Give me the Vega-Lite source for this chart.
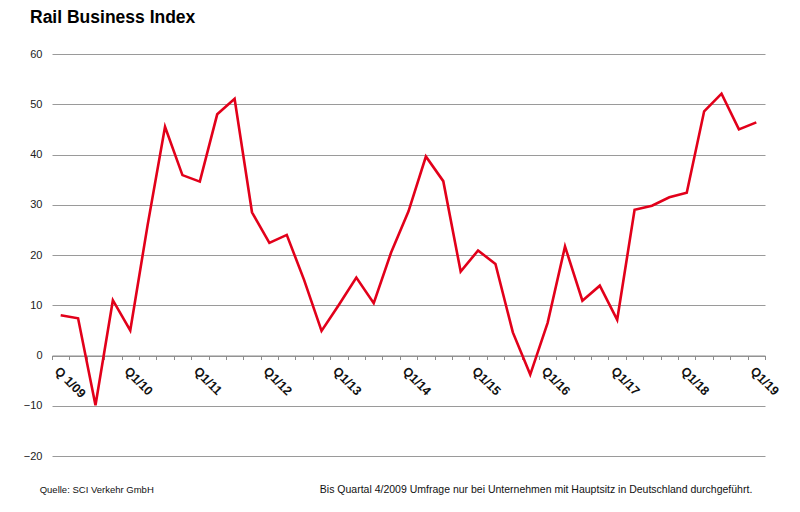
{
  "$schema": "https://vega.github.io/schema/vega-lite/v6.json",
  "width": 713,
  "height": 402,
  "autosize": {"type": "none"},
  "padding": {"left": 52, "top": 54, "right": 35, "bottom": 56},
  "background": "white",
  "title": {
    "text": "Rail Business Index",
    "anchor": "start",
    "frame": "group",
    "dx": -22,
    "offset": 22,
    "font": "Liberation Sans",
    "fontSize": 17.5,
    "fontWeight": "bold",
    "color": "#000000"
  },
  "config": {
    "view": {"stroke": null},
    "axis": {"labelFont": "Liberation Sans", "titleFont": "Liberation Sans"}
  },
  "data": {
    "values": [
      {"q": "Q 1/09", "v": 8.0},
      {"q": "Q2/09", "v": 7.4},
      {"q": "Q3/09", "v": -9.9},
      {"q": "Q4/09", "v": 11.0},
      {"q": "Q1/10", "v": 5.0},
      {"q": "Q2/10", "v": 26.0},
      {"q": "Q3/10", "v": 45.5},
      {"q": "Q4/10", "v": 35.9},
      {"q": "Q1/11", "v": 34.6},
      {"q": "Q2/11", "v": 48.0},
      {"q": "Q3/11", "v": 51.1},
      {"q": "Q4/11", "v": 28.5},
      {"q": "Q1/12", "v": 22.4},
      {"q": "Q2/12", "v": 24.0},
      {"q": "Q3/12", "v": 15.0},
      {"q": "Q4/12", "v": 4.9},
      {"q": "Q1/13", "v": 10.1},
      {"q": "Q2/13", "v": 15.5},
      {"q": "Q3/13", "v": 10.4},
      {"q": "Q4/13", "v": 20.5},
      {"q": "Q1/14", "v": 28.7},
      {"q": "Q2/14", "v": 39.6},
      {"q": "Q3/14", "v": 34.7},
      {"q": "Q4/14", "v": 16.7},
      {"q": "Q1/15", "v": 20.9},
      {"q": "Q2/15", "v": 18.2},
      {"q": "Q3/15", "v": 4.6},
      {"q": "Q4/15", "v": -3.8},
      {"q": "Q1/16", "v": 6.5},
      {"q": "Q2/16", "v": 21.7},
      {"q": "Q3/16", "v": 10.9},
      {"q": "Q4/16", "v": 13.9},
      {"q": "Q1/17", "v": 7.1},
      {"q": "Q2/17", "v": 29.0},
      {"q": "Q3/17", "v": 29.8},
      {"q": "Q4/17", "v": 31.5},
      {"q": "Q1/18", "v": 32.4},
      {"q": "Q2/18", "v": 48.6},
      {"q": "Q3/18", "v": 52.1},
      {"q": "Q4/18", "v": 45.0},
      {"q": "Q1/19", "v": 46.4}
    ]
  },
  "layer": [
    {
      "mark": {"type": "line", "color": "#e2001a", "strokeWidth": 2.6, "strokeJoin": "miter"},
      "encoding": {
        "x": {
          "field": "q",
          "type": "ordinal",
          "sort": null,
          "scale": {"paddingInner": 0, "paddingOuter": 0},
          "axis": {
            "title": null,
            "offset": -100.5,
            "tickBand": "extent",
            "labelExpr": "indexof(datum.label, '1/') >= 0 ? datum.label : ''",
            "labelAngle": 45,
            "labelAlign": "left",
            "labelBaseline": "top",
            "labelPadding": 5,
            "labelFontSize": 12.5,
            "labelFontWeight": "bold",
            "labelColor": "#111111",
            "domainColor": "#8c8c8c",
            "domainWidth": 1,
            "tickColor": "#8c8c8c",
            "tickSize": 4,
            "grid": false
          }
        },
        "y": {
          "field": "v",
          "type": "quantitative",
          "scale": {"domain": [-20, 60], "nice": false, "zero": false},
          "axis": {
            "title": null,
            "values": [-20, -10, 0, 10, 20, 30, 40, 50, 60],
            "domain": false,
            "ticks": false,
            "grid": true,
            "gridColor": "#9a9a9a",
            "gridWidth": 1,
            "labelPadding": 10,
            "labelFontSize": 11,
            "labelColor": "#222222"
          }
        }
      }
    },
    {
      "data": {"values": [{"note": "Quelle: SCI Verkehr GmbH"}]},
      "mark": {"type": "text", "align": "left", "baseline": "middle", "dx": -21, "font": "Liberation Sans", "fontSize": 9.5, "color": "#111111"},
      "encoding": {
        "text": {"field": "note"},
        "x": {"datum": "Q 1/09", "type": "ordinal"},
        "y": {"datum": -26.8, "type": "quantitative"}
      }
    },
    {
      "data": {"values": [{"note": "Bis Quartal 4/2009 Umfrage nur bei Unternehmen  mit Hauptsitz in Deutschland  durchgeführt."}]},
      "mark": {"type": "text", "align": "right", "baseline": "middle", "dx": -4, "font": "Liberation Sans", "fontSize": 10.5, "color": "#111111"},
      "encoding": {
        "text": {"field": "note"},
        "x": {"datum": "Q1/19", "type": "ordinal"},
        "y": {"datum": -26.8, "type": "quantitative"}
      }
    }
  ]
}
